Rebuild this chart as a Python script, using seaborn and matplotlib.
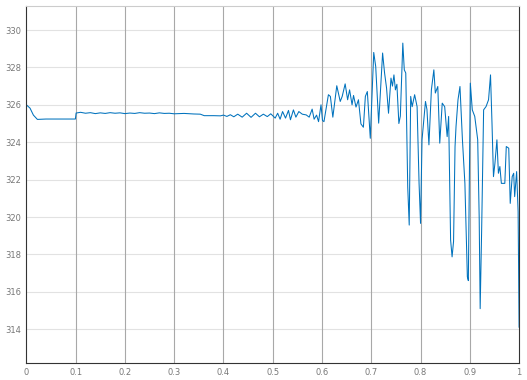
import numpy as np
import pandas as pd
import matplotlib
matplotlib.use("Agg")
import matplotlib.pyplot as plt
import seaborn as sns

# time (s) and signal values
t = [0.000, 0.0075, 0.0143, 0.0224, 0.040, 0.0995, 0.1010, 0.110, 0.120, 0.130,
     0.140, 0.150, 0.160, 0.170, 0.180, 0.190, 0.200, 0.210, 0.220, 0.230,
     0.240, 0.250, 0.260, 0.270, 0.280, 0.290, 0.300, 0.320, 0.340, 0.353,
     0.361, 0.380, 0.394, 0.400, 0.407, 0.414, 0.421, 0.429, 0.438, 0.447,
     0.456, 0.465, 0.473, 0.481, 0.489, 0.496, 0.505, 0.510, 0.515, 0.520,
     0.526, 0.532, 0.536, 0.542, 0.547, 0.553, 0.560, 0.568, 0.574, 0.580,
     0.584, 0.589, 0.593, 0.598, 0.601, 0.604, 0.613, 0.617, 0.622, 0.630,
     0.637, 0.641, 0.647, 0.652, 0.656, 0.661, 0.664, 0.669, 0.674, 0.679,
     0.684, 0.688, 0.692, 0.698, 0.705, 0.709, 0.715, 0.723, 0.727, 0.731,
     0.735, 0.740, 0.743, 0.746, 0.749, 0.752, 0.756, 0.759, 0.764, 0.767,
     0.770, 0.774, 0.777, 0.780, 0.783, 0.788, 0.793, 0.797, 0.800, 0.803,
     0.806, 0.810, 0.813, 0.817, 0.822, 0.827, 0.830, 0.835, 0.839, 0.844,
     0.849, 0.854, 0.857, 0.861, 0.864, 0.867, 0.870, 0.872, 0.876, 0.880,
     0.885, 0.890, 0.895, 0.897, 0.901, 0.905, 0.910, 0.916, 0.919, 0.921,
     0.924, 0.928, 0.933, 0.938, 0.942, 0.945, 0.948, 0.951, 0.955, 0.958,
     0.961, 0.964, 0.971, 0.974, 0.979, 0.982, 0.986, 0.989, 0.991, 0.995,
     0.997, 0.998, 1.000]
v = [326.00, 325.82, 325.45, 325.22, 325.24, 325.24, 325.56, 325.60, 325.55, 325.58,
     325.53, 325.57, 325.54, 325.58, 325.55, 325.57, 325.53, 325.56, 325.54, 325.58,
     325.55, 325.56, 325.53, 325.57, 325.54, 325.55, 325.52, 325.54, 325.51, 325.50,
     325.42, 325.42, 325.41, 325.45, 325.38, 325.47, 325.36, 325.50, 325.34, 325.55,
     325.33, 325.55, 325.36, 325.50, 325.37, 325.52, 325.29, 325.55, 325.23, 325.64,
     325.29, 325.70, 325.20, 325.73, 325.34, 325.64, 325.50, 325.46, 325.34, 325.77,
     325.23, 325.45, 325.10, 326.00, 325.16, 325.10, 326.54, 326.45, 325.34, 327.02,
     326.18, 326.45, 327.12, 326.27, 326.80, 326.00, 326.50, 325.88, 326.27, 324.98,
     324.80, 326.45, 326.71, 324.21, 328.80, 328.05, 325.02, 328.77, 327.70, 326.90,
     325.55, 327.43, 327.00, 327.60, 326.80, 327.10, 325.00, 325.40, 329.30, 327.87,
     327.70, 321.60, 319.57, 326.45, 325.90, 326.54, 325.90, 321.80, 319.66, 324.13,
     325.00, 326.18, 325.75, 323.86, 326.80, 327.87, 326.63, 326.98, 323.95, 326.09,
     325.90, 324.30, 325.38, 318.77, 317.87, 318.70, 323.77, 324.84, 326.27, 326.98,
     324.13, 321.80, 316.80, 316.60, 327.16, 325.73, 325.38, 324.13, 320.00, 315.10,
     319.30, 325.73, 325.91, 326.27, 327.60, 325.02, 322.16, 322.88, 324.13, 322.34,
     322.70, 321.80, 321.80, 323.77, 323.68, 320.73, 322.16, 322.34, 321.09, 322.43,
     320.91, 320.30, 314.10]

xticks = [0, 0.1, 0.2, 0.3, 0.4, 0.5, 0.6, 0.7, 0.8, 0.9, 1]
xlabels = ["0", "0.1", "0.2", "0.3", "0.4", "0.5", "0.6", "0.7", "0.8", "0.9", "1"]
yticks = [314, 316, 318, 320, 322, 324, 326, 328, 330]

df = pd.DataFrame({"t": t, "v": v})

sns.set_style("white")
fig = plt.figure(figsize=(5.27, 3.80), dpi=100)
ax = fig.add_axes([0.050, 0.045, 0.935, 0.940])

# grid: horizontal light, vertical a bit darker
for y in yticks:
    ax.axhline(y, color="#e2e2e2", lw=0.8, zorder=0)
for x in xticks[1:-1]:
    ax.axvline(x, color="#a8a8a8", lw=0.8, zorder=0)

sns.lineplot(data=df, x="t", y="v", ax=ax, color="#0072BD", lw=0.75,
             estimator=None, sort=False)

ax.set_xlim(0, 1)
ax.set_ylim(312.2, 331.3)
ax.set_xticks(xticks)
ax.set_xticklabels(xlabels)
ax.set_yticks(yticks)
ax.set_xlabel("")
ax.set_ylabel("")
ax.tick_params(labelsize=6, colors="#777777", direction="in", length=2, width=0.5)

for side in ["left", "bottom", "right"]:
    ax.spines[side].set_color("#333333")
    ax.spines[side].set_linewidth(0.8)
ax.spines["top"].set_color("#cccccc")
ax.spines["top"].set_linewidth(0.8)

fig.savefig("out.png", dpi=100)
